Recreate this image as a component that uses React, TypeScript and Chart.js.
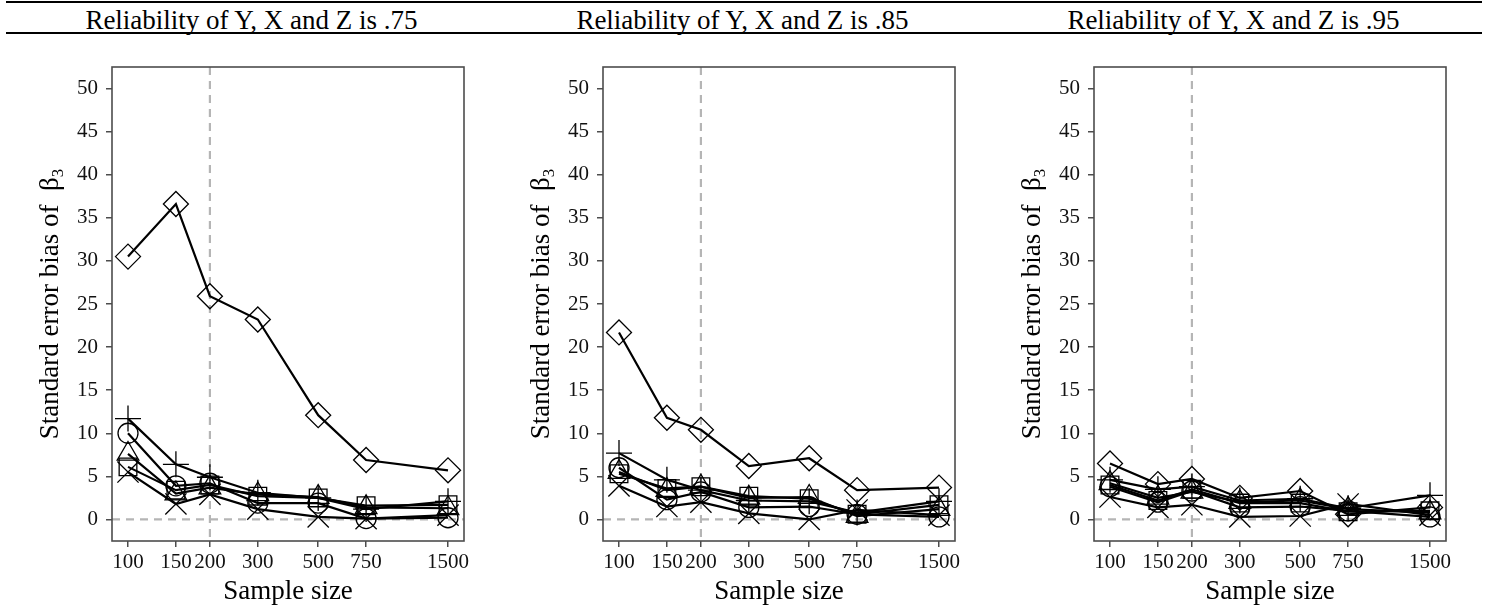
import React, { useEffect, useRef } from 'react';
import { Chart, registerables } from 'chart.js';

Chart.register(...registerables);

// ---------- data ----------
const sampleSizes = [100, 150, 200, 300, 500, 750, 1500];
const yTickValues = [0, 5, 10, 15, 20, 25, 30, 35, 40, 45, 50];
const cutoffSize = 200;
const panelTitles = [
  'Reliability of Y, X and Z is .75',
  'Reliability of Y, X and Z is .85',
  'Reliability of Y, X and Z is .95',
];
const xAxisTitle = 'Sample size';
const yAxisTitleMain = 'Standard error bias of  \u03B2';
const yAxisTitleSub = '3';

// reliability .75
const diamond75 = [30.5, 36.6, 25.9, 23.2, 12.1, 6.9, 5.7];
const plus75 = [11.7, 6.4, 4.9, 3.1, 2.5, 1.2, 2.1];
const circle75 = [10.0, 3.9, 4.2, 1.9, 1.9, 0.1, 0.2];
const triangle75 = [7.6, 3.0, 3.7, 2.9, 2.6, 1.4, 1.3];
const square75 = [6.1, 3.4, 4.0, 2.7, 2.5, 1.6, 1.7];
const cross75 = [5.5, 1.8, 2.9, 1.2, 0.3, 0.1, 0.5];

// reliability .85
const diamond85 = [21.7, 11.8, 10.4, 6.2, 7.1, 3.4, 3.7];
const plus85 = [7.7, 4.6, 3.4, 2.2, 2.1, 0.8, 2.1];
const circle85 = [6.0, 2.3, 3.2, 1.4, 1.5, 0.6, 0.3];
const triangle85 = [5.5, 3.4, 3.8, 2.5, 2.6, 0.4, 1.2];
const square85 = [5.3, 3.6, 3.8, 2.7, 2.4, 0.6, 1.7];
const cross85 = [3.9, 1.5, 2.0, 0.7, 0.0, 1.1, 0.5];

// reliability .95
const diamond95 = [6.5, 4.1, 4.7, 2.5, 3.3, 0.6, 1.4];
const plus95 = [4.6, 3.5, 3.8, 2.2, 2.4, 1.3, 2.8];
const circle95 = [3.8, 2.0, 3.3, 1.4, 1.5, 1.0, 0.3];
const triangle95 = [4.2, 2.5, 3.2, 2.0, 2.2, 1.2, 0.8];
const square95 = [4.0, 2.2, 3.5, 1.9, 1.9, 0.9, 1.0];
const cross95 = [2.6, 1.4, 1.7, 0.3, 0.4, 1.8, 0.5];

const panels = [
  [diamond75, plus75, circle75, triangle75, square75, cross75],
  [diamond85, plus85, circle85, triangle85, square85, cross85],
  [diamond95, plus95, circle95, triangle95, square95, cross95],
];

// ---------- styles ----------
const FONT = '"Liberation Serif", "Times New Roman", serif';
const markerStyles = [
  { pointStyle: 'rectRot', radius: 12.5 },
  { pointStyle: 'cross', radius: 13 },
  { pointStyle: 'circle', radius: 10 },
  { pointStyle: 'triangle', radius: 12.5 },
  { pointStyle: 'rect', radius: 12.5 },
  { pointStyle: 'crossRot', radius: 15 },
];

const PANEL_W = 491;
const PANEL_H = 567;
const PANEL_LEFT = 6;
const PANEL_TOP = 40;

const logMin = Math.log10(sampleSizes[0]);
const logMax = Math.log10(sampleSizes[sampleSizes.length - 1]);
const logPad = (logMax - logMin) * 0.05;
const yMin = yTickValues[0] - (yTickValues[yTickValues.length - 1] - yTickValues[0]) * 0.05;
const yMax = yTickValues[yTickValues.length - 1] + (yTickValues[yTickValues.length - 1] - yTickValues[0]) * 0.05;

const decorPlugin = {
  id: 'decor',
  beforeDatasetsDraw(chart: any) {
    const { ctx, chartArea: a, scales } = chart;
    const x = scales.x;
    const y = scales.y;
    ctx.save();
    ctx.strokeStyle = '#b5b5b5';
    ctx.lineWidth = 2.2;
    ctx.setLineDash([8, 6]);
    const y0 = y.getPixelForValue(0);
    ctx.beginPath();
    ctx.moveTo(a.left, y0);
    ctx.lineTo(a.right, y0);
    ctx.stroke();
    const xc = x.getPixelForValue(cutoffSize);
    ctx.beginPath();
    ctx.moveTo(xc, a.top);
    ctx.lineTo(xc, a.bottom);
    ctx.stroke();
    ctx.restore();
  },
  afterDraw(chart: any) {
    const { ctx, chartArea: a } = chart;
    ctx.save();
    ctx.strokeStyle = '#4d4d4d';
    ctx.lineWidth = 1.6;
    ctx.strokeRect(a.left, a.top, a.right - a.left, a.bottom - a.top);

    ctx.fillStyle = '#000';
    // x title
    ctx.font = `27px ${FONT}`;
    ctx.textAlign = 'center';
    ctx.textBaseline = 'alphabetic';
    ctx.fillText(xAxisTitle, (a.left + a.right) / 2, 559);

    // y title (rotated)
    ctx.translate(52, (a.top + a.bottom) / 2);
    ctx.rotate(-Math.PI / 2);
    ctx.font = `27px ${FONT}`;
    const wMain = ctx.measureText(yAxisTitleMain).width;
    ctx.font = `17px ${FONT}`;
    const wSub = ctx.measureText(yAxisTitleSub).width;
    const start = -(wMain + wSub) / 2;
    ctx.textAlign = 'left';
    ctx.font = `27px ${FONT}`;
    ctx.fillText(yAxisTitleMain, start, 0);
    ctx.font = `17px ${FONT}`;
    ctx.fillText(yAxisTitleSub, start + wMain, 5);
    ctx.restore();
  },
};

function Panel({ series, left }: { series: number[][]; left: number }) {
  const ref = useRef<HTMLCanvasElement | null>(null);
  useEffect(() => {
    if (!ref.current) return;
    const datasets = series.map((vals, i) => ({
      data: sampleSizes.map((s, j) => ({ x: s, y: vals[j] })),
      borderColor: '#000',
      borderWidth: 2.2,
      pointStyle: markerStyles[i].pointStyle,
      pointRadius: markerStyles[i].radius,
      pointBorderWidth: 1.3,
      pointBorderColor: '#000',
      pointBackgroundColor: 'rgba(0,0,0,0)',
      fill: false,
      tension: 0,
      clip: false,
    }));
    const chart = new Chart(ref.current, {
      type: 'line',
      data: { datasets },
      options: {
        animation: false,
        responsive: false,
        maintainAspectRatio: false,
        layout: { padding: { top: 27, right: 33, left: 0, bottom: 0 } },
        plugins: { legend: { display: false }, tooltip: { enabled: false }, title: { display: false } },
        scales: {
          x: {
            type: 'logarithmic',
            min: Math.pow(10, logMin - logPad),
            max: Math.pow(10, logMax + logPad),
            afterBuildTicks: (s: any) => {
              s.ticks = sampleSizes.map((v) => ({ value: v }));
            },
            afterFit: (s: any) => {
              s.height = 66;
            },
            ticks: {
              autoSkip: false,
              maxRotation: 0,
              minRotation: 0,
              padding: 5,
              color: '#111',
              font: { family: FONT, size: 21, lineHeight: 1 },
              callback: (v: any) => String(v),
            },
            grid: { display: true, drawOnChartArea: false, drawTicks: true, tickLength: 6, color: '#4d4d4d', lineWidth: 1.5 },
            border: { display: false },
          },
          y: {
            type: 'linear',
            min: yMin,
            max: yMax,
            afterBuildTicks: (s: any) => {
              s.ticks = yTickValues.map((v) => ({ value: v }));
            },
            afterFit: (s: any) => {
              s.width = 106;
            },
            ticks: {
              padding: 8,
              color: '#111',
              font: { family: FONT, size: 21, lineHeight: 1 },
              callback: (v: any) => String(v),
            },
            grid: { display: true, drawOnChartArea: false, drawTicks: true, tickLength: 6, color: '#4d4d4d', lineWidth: 1.5 },
            border: { display: false },
          },
        },
      },
      plugins: [decorPlugin],
    } as any);
    return () => chart.destroy();
  }, [series]);
  return (
    <canvas
      ref={ref}
      width={PANEL_W}
      height={PANEL_H}
      style={{ position: 'absolute', left, top: PANEL_TOP, width: PANEL_W, height: PANEL_H }}
    />
  );
}

export default function App() {
  return (
    <div style={{ position: 'absolute', left: 0, top: 0, width: 1489, height: 607, background: '#fff', overflow: 'hidden' }}>
      <div style={{ position: 'absolute', left: 6, top: 1, width: 1476, height: 2, background: '#000' }} />
      <div style={{ position: 'absolute', left: 6, top: 32, width: 1476, height: 2, background: '#000' }} />
      {panelTitles.map((t, i) => (
        <div
          key={t}
          style={{
            position: 'absolute',
            left: PANEL_LEFT + i * PANEL_W,
            top: 7,
            width: PANEL_W,
            textAlign: 'center',
            fontFamily: FONT,
            fontSize: 27,
            lineHeight: '26px',
            color: '#000',
            whiteSpace: 'nowrap',
          }}
        >
          {t}
        </div>
      ))}
      {panels.map((series, i) => (
        <Panel key={i} series={series} left={PANEL_LEFT + i * PANEL_W} />
      ))}
    </div>
  );
}
